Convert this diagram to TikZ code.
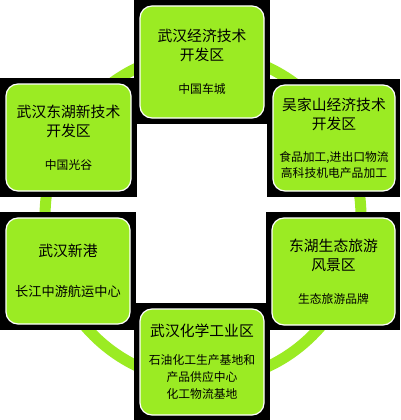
\documentclass[tikz,border=0pt]{standalone}
\usepackage{fontspec}
\newfontfamily\cjk{Noto Sans CJK SC}
\usetikzlibrary{positioning}
\definecolor{lime}{RGB}{155,235,35}
\newcommand{\subsz}{\fontsize{11.8}{17}\selectfont}

\begin{document}
\begin{tikzpicture}[x=1pt, y=-1pt,
    panel/.style={fill=black, inner sep=0pt, minimum width=136pt, minimum height=118pt},
    card/.style={fill=lime, draw=white, line width=1.2pt, rounded corners=12pt, inner sep=0pt,
      minimum width=124pt, minimum height=106pt, align=center,
      font=\cjk\fontsize{14.8}{19}\selectfont}]
            \useasboundingbox (0,0) rectangle (400,420);
            \fill[white] (0,0) rectangle (400,420);
            \draw[lime, line width=11pt] (203,217) ellipse [x radius=158, y radius=164];

            \node [panel, minimum height=124pt] (jingkai-bg) at (202,62) {};
            \node [panel, minimum width=137pt, minimum height=119pt] (donghu-bg) at (68.5,137.5) {};
            \node [panel, minimum width=133pt] (wujiashan-bg) at (333.5,138) {};
            \node [panel] (xingang-bg) at (68,271) {};
            \node [panel, minimum width=134pt] (shengtai-bg) at (333,271) {};
            \node [panel, minimum height=117pt] (huagong-bg) at (202,361.5) {};

            \node [card, minimum height=112pt] (jingkai) at (202,62)
                {武汉经济技术\\开发区\\[14pt]{\subsz 中国车城}};
            \node [card, minimum width=125pt, minimum height=107pt] (donghu) at (68.5,137.5)
                {武汉东湖新技术\\开发区\\[14pt]{\subsz 中国光谷}};
            \node [card, minimum width=122pt] (wujiashan) at (334,138)
                {吴家山经济技术\\开发区\\[13pt]{\subsz 食品加工,进出口物流}\\[-3pt]{\subsz 高科技机电产品加工}};
            \node [card] (xingang) at (68,271)
                {武汉新港\\[21pt]{\fontsize{13.2}{17}\selectfont 长江中游航运中心}};
            \node [card, minimum width=123pt, minimum height=107pt] (shengtai) at (333.5,271.5)
                {东湖生态旅游\\风景区\\[14pt]{\subsz 生态旅游品牌}};
            \node [card] (huagong) at (202,362)
                {武汉化学工业区\\[9pt]{\subsz 石油化工生产基地和}\\[-2pt]{\subsz 产品供应中心}\\[-2pt]{\subsz 化工物流基地}};
        \end{tikzpicture}
\end{document}
